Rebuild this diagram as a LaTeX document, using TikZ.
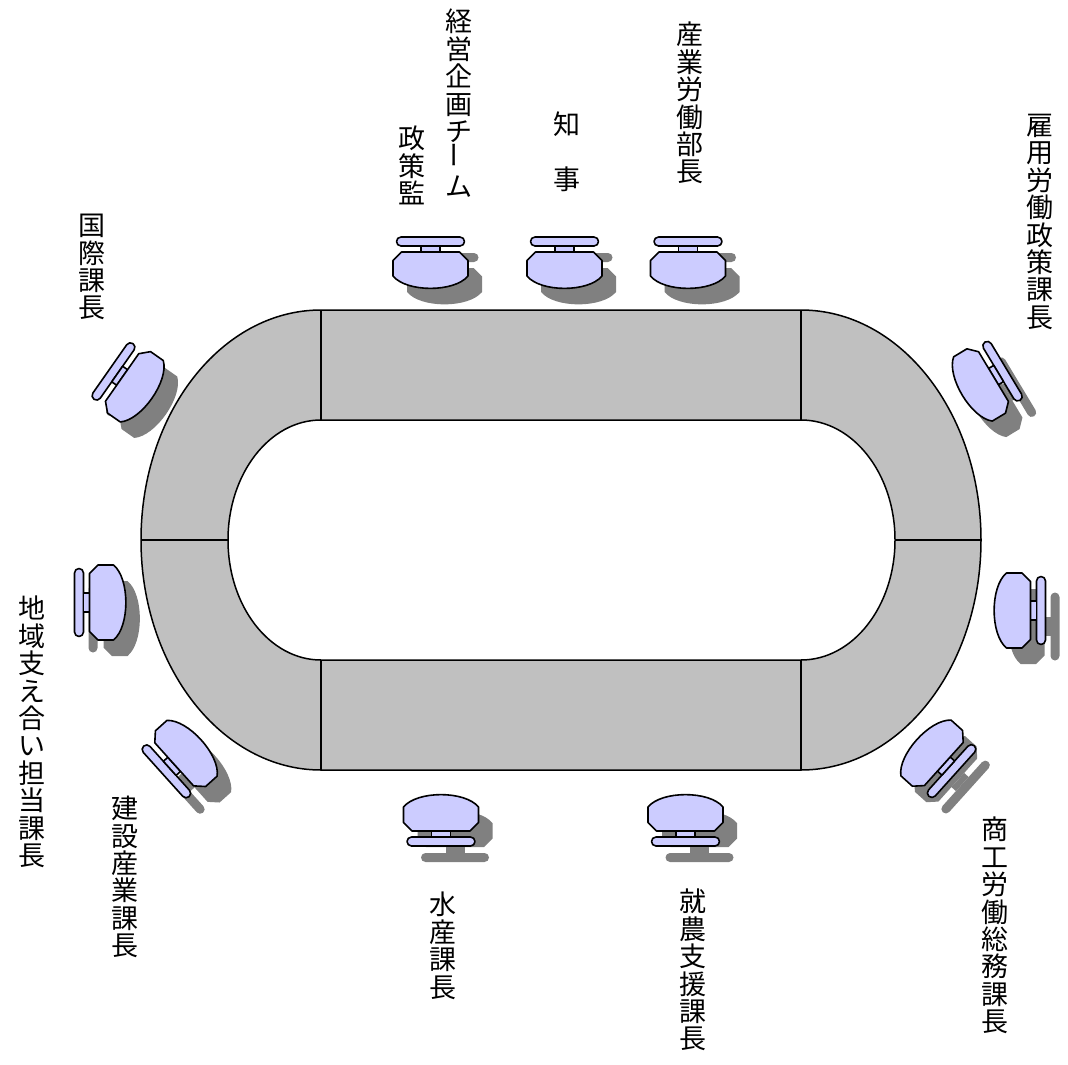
\documentclass[tikz,border=0pt]{standalone}
\usepackage{fontspec}
\usepackage{graphicx}
\newfontfamily\cjk{Noto Sans CJK JP}
\newcommand\labfont{\cjk\fontsize{27}{27.4}\selectfont\lineskiplimit-30pt\relax}
\definecolor{tablegray}{HTML}{C0C0C0}
\definecolor{chairblue}{HTML}{CCCCFF}
\definecolor{shadowgray}{HTML}{808080}
\tikzset{
  tablefill/.style={fill=tablegray,draw=black,line width=1.5pt},
  holefill/.style={fill=white,draw=black,line width=1.5pt},
  divider/.style={draw=black,line width=1.6pt},
  chairfill/.style={fill=chairblue,draw=black,line width=1.6pt,line join=round},
  shadowfill/.style={fill=shadowgray},
  lab/.style={anchor=north,align=center,inner sep=0pt,font=\labfont}
}
\newcommand\chairparts[1]{%
  \path[#1,rounded corners=4.5pt] (-34,-25.5) rectangle (34,-16.5);
  \path[#1] (-9.5,-16.5) rectangle (9.5,-10.5);
  \path[#1] (-29,-10.5) -- (29,-10.5) -- (37.5,-2) -- (37.5,13.5)
     .. controls (24,30) and (-24,30) .. (-37.5,13.5) -- (-37.5,-2) -- cycle;
}
\newcommand\chairshadow[3]{%
  \begin{scope}[shift={(#1+14,#2+16)},rotate=#3]\chairparts{shadowfill}\end{scope}}
\newcommand\chairbody[3]{%
  \begin{scope}[shift={(#1,#2)},rotate=#3]\chairparts{chairfill}\end{scope}}
\newcommand\vbar{\rotatebox{90}{ー}}
\begin{document}
\begin{tikzpicture}[x=1pt,y=-1pt]
\useasboundingbox (0,0) rectangle (1068,1065);
% table
\path[tablefill] (321,310) -- (801,310)
  arc[start angle=90,end angle=-90,x radius=180pt,y radius=230pt]
  -- (321,770)
  arc[start angle=270,end angle=90,x radius=180pt,y radius=230pt] -- cycle;
\path[holefill] (321,420) -- (801,420)
  arc[start angle=90,end angle=-90,x radius=94pt,y radius=120pt]
  -- (321,660)
  arc[start angle=270,end angle=90,x radius=93pt,y radius=120pt] -- cycle;
\coordinate (d1a) at (321,310); \coordinate (d1b) at (321,420);
\coordinate (d2a) at (801,310); \coordinate (d2b) at (801,420);
\coordinate (d3a) at (321,660); \coordinate (d3b) at (321,770);
\coordinate (d4a) at (801,660); \coordinate (d4b) at (801,770);
\coordinate (d5a) at (141,540); \coordinate (d5b) at (228,540);
\coordinate (d6a) at (895,540); \coordinate (d6b) at (981,540);
\draw[divider] (d1a) -- (d1b);
\draw[divider] (d2a) -- (d2b);
\draw[divider] (d3a) -- (d3b);
\draw[divider] (d4a) -- (d4b);
\draw[divider] (d5a) -- (d5b);
\draw[divider] (d6a) -- (d6b);
% chair shadows
\chairshadow{430.5}{262.5}{0}
\chairshadow{564.5}{262.5}{0}
\chairshadow{688}{262.5}{0}
\chairshadow{441}{820.5}{180}
\chairshadow{685.5}{820.5}{180}
\chairshadow{130.7}{383.5}{55}
\chairshadow{984.5}{382}{-59}
\chairshadow{100}{602.5}{90}
\chairshadow{1020}{610.5}{-90}
\chairshadow{182}{757.3}{132}
\chairshadow{936}{757}{-132}
% chairs
\chairbody{430.5}{262.5}{0}
\chairbody{564.5}{262.5}{0}
\chairbody{688}{262.5}{0}
\chairbody{441}{820.5}{180}
\chairbody{685.5}{820.5}{180}
\chairbody{130.7}{383.5}{55}
\chairbody{984.5}{382}{-59}
\chairbody{100}{602.5}{90}
\chairbody{1020}{610.5}{-90}
\chairbody{182}{757.3}{132}
\chairbody{936}{757}{-132}
% labels
\node[lab] (seisaku) at (412,126) {政\\策\\監};
\node[lab] (keiei) at (459,9) {経\\営\\企\\画\\チ\\\vbar\\ム};
\node[lab] (chiji) at (567,112) {知\\　\\事};
\node[lab] (sangyo) at (690,22) {産\\業\\労\\働\\部\\長};
\node[lab] (koyo) at (1040,114) {雇\\用\\労\\働\\政\\策\\課\\長};
\node[lab] (kokusai) at (92,214) {国\\際\\課\\長};
\node[lab] (chiiki) at (32,596) {地\\域\\支\\え\\合\\い\\担\\当\\課\\長};
\node[lab] (kensetsu) at (125,796) {建\\設\\産\\業\\課\\長};
\node[lab] (suisan) at (443,892) {水\\産\\課\\長};
\node[lab] (shuno) at (693,889) {就\\農\\支\\援\\課\\長};
\node[lab] (shoko) at (995,817) {商\\工\\労\\働\\総\\務\\課\\長};
\end{tikzpicture}
\end{document}
